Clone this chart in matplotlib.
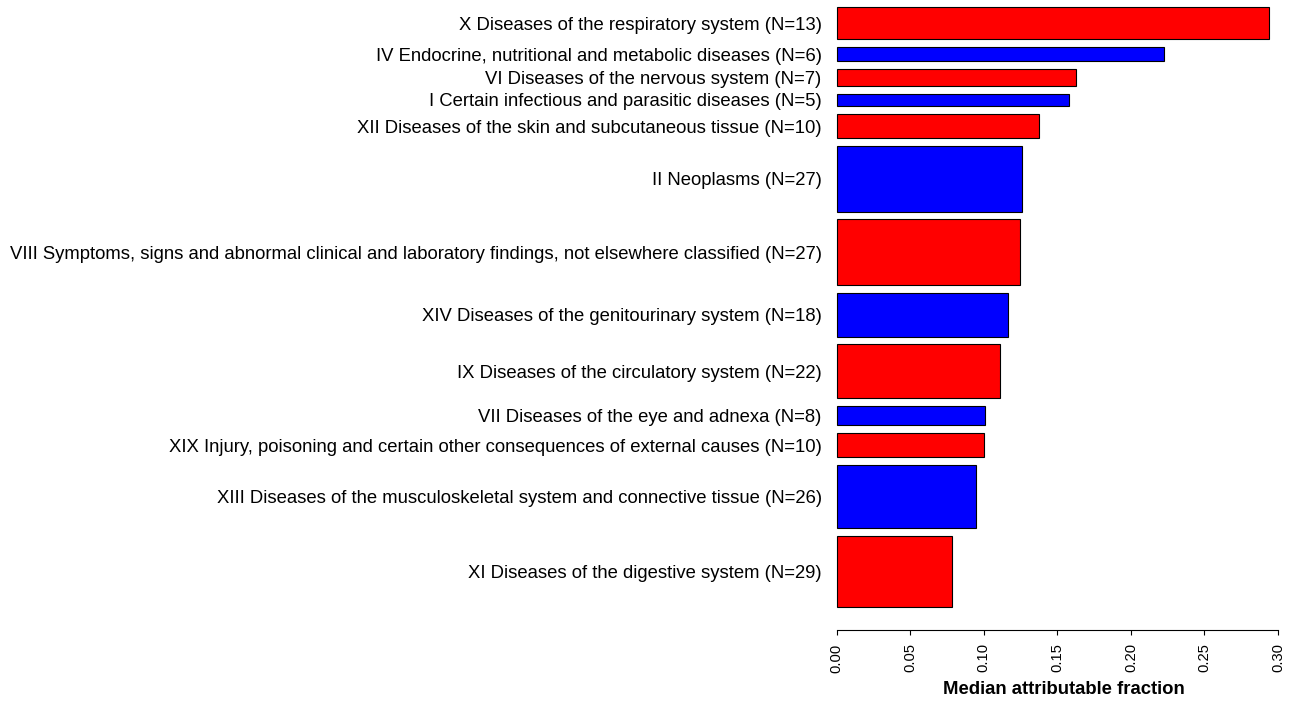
import numpy as np
import matplotlib
matplotlib.use("Agg")
import matplotlib.pyplot as plt

plt.rcParams['font.family'] = ['Liberation Sans', 'DejaVu Sans']

# Data listed top to bottom as shown
categories = [
    "X Diseases of the respiratory system",
    "IV Endocrine, nutritional and metabolic diseases",
    "VI Diseases of the nervous system",
    "I Certain infectious and parasitic diseases",
    "XII Diseases of the skin and subcutaneous tissue",
    "II Neoplasms",
    "VIII Symptoms, signs and abnormal clinical and laboratory findings, not elsewhere classified",
    "XIV Diseases of the genitourinary system",
    "IX Diseases of the circulatory system",
    "VII Diseases of the eye and adnexa",
    "XIX Injury, poisoning and certain other consequences of external causes",
    "XIII Diseases of the musculoskeletal system and connective tissue",
    "XI Diseases of the digestive system",
]
counts = [13, 6, 7, 5, 10, 27, 27, 18, 22, 8, 10, 26, 29]
values = [0.2939, 0.2223, 0.1627, 0.1577, 0.1373, 0.1258, 0.1244,
          0.1162, 0.1112, 0.1010, 0.1001, 0.0947, 0.0784]
bar_colors = ["red", "blue"]
xticks = [0.00, 0.05, 0.10, 0.15, 0.20, 0.25, 0.30]
xlabel = "Median attributable fraction"

# R-style barplot layout (bottom-up, width = N, space = 0.2 * mean width)
n_rev = np.array(counts[::-1], dtype=float)
v_rev = np.array(values[::-1])
lab_rev = [f"{c} (N={n})" for c, n in zip(categories[::-1], counts[::-1])]
gap = 0.2 * n_rev.mean()
right = np.cumsum(gap + n_rev)
left = right - n_rev
centers = (left + right) / 2
cols = [bar_colors[i % 2] for i in range(len(n_rev))]

W, H = 1291, 702
fig = plt.figure(figsize=(W / 100, H / 100), dpi=100)

x0_px, x1_px = 836.7, 1278.0
axis_px = 630.0
bottom_bar_px = 606.7
top_bar_px = 7.3
scale = (bottom_bar_px - top_bar_px) / (right[-1] - left[0])
ymin = left[0] - (axis_px - bottom_bar_px) / scale
ymax = right[-1] + top_bar_px / scale

ax = fig.add_axes([x0_px / W, (H - axis_px) / H, (x1_px - x0_px) / W, axis_px / H])
ax.barh(centers, v_rev, height=n_rev, color=cols, edgecolor='black',
        linewidth=0.8, clip_on=False)
ax.set_xlim(0, 0.30)
ax.set_ylim(ymin, ymax)

ax.set_yticks(centers)
ax.set_yticklabels(lab_rev, fontsize=13.3)
ax.tick_params(axis='y', length=0, pad=10.8)

ax.set_xticks(xticks)
ax.set_xticklabels([f"{t:.2f}" for t in xticks], rotation=90, fontsize=10.6)
ax.tick_params(axis='x', length=3.6, width=0.8, pad=6)

for s in ['top', 'right', 'left']:
    ax.spines[s].set_visible(False)
ax.spines['bottom'].set_bounds(0, 0.30)
ax.spines['bottom'].set_linewidth(0.8)

fig.text(1064 / W, 1 - 689 / H, xlabel, ha='center', va='center',
         fontsize=13.3, fontweight='bold')

fig.savefig("out.png", dpi=100)
